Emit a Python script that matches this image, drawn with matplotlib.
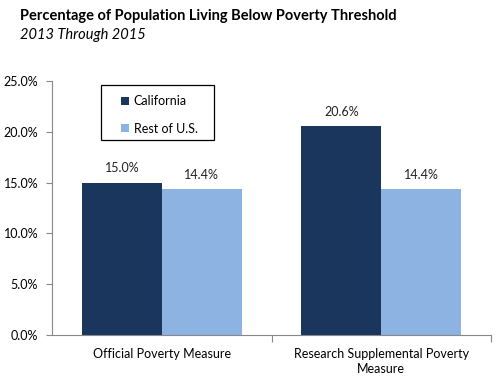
import matplotlib
matplotlib.use("Agg")
import matplotlib.pyplot as plt
from matplotlib.patches import Rectangle
import numpy as np

categories = ["Official Poverty Measure", "Research Supplemental Poverty\nMeasure"]
series_names = ["California", "Rest of U.S."]
california = [15.0, 20.6]
rest_us = [14.4, 14.4]
yticks = [0, 5, 10, 15, 20, 25]

dark = "#1B365D"
light = "#8DB3E2"

plt.rcParams['font.family'] = ['Lato', 'DejaVu Sans']

fig = plt.figure(figsize=(5.03, 3.91), dpi=100)
L, R, T, B = 52, 491, 81, 335
ax = fig.add_axes([L/503, 1-B/391, (R-L)/503, (B-T)/391])

def ax_x(px):
    return (px - L) / (R - L)

def ax_y(py):
    return (B - py) / (B - T)

x = np.arange(len(categories))
w = 0.364
b1 = ax.bar(x - w/2, california, w, color=dark, label=series_names[0])
b2 = ax.bar(x + w/2, rest_us, w, color=light, label=series_names[1])

for bars in (b1, b2):
    for r in bars:
        ax.text(r.get_x() + r.get_width()/2, r.get_height() + 0.8, f"{r.get_height():.1f}%",
                ha="center", va="bottom", fontsize=9, color="#222222")

ax.set_xlim(-0.5, 1.5)
ax.set_ylim(0, 25)
ax.set_yticks(yticks)
ax.set_yticklabels([f"{v:.1f}%" for v in yticks], fontsize=9)
ax.set_xticks([0.5, 1.5])
ax.set_xticklabels([])
ax.set_xticks(x, minor=True)
ax.set_xticklabels(categories, minor=True, fontsize=9, linespacing=1.35)
ax.tick_params(axis='x', which='minor', length=0, pad=9)
ax.tick_params(axis='x', which='major', length=5, color="#888888", direction='out')
ax.tick_params(axis='y', length=4, color="#888888", direction='out', pad=6)
for s in ("top", "right"):
    ax.spines[s].set_visible(False)
for s in ("left", "bottom"):
    ax.spines[s].set_color("#888888")
    ax.spines[s].set_linewidth(0.8)

leg = ax.legend(loc="upper left", bbox_to_anchor=(ax_x(121), ax_y(95)),
                frameon=False, fontsize=9,
                handlelength=0.6, handleheight=0.6, handletextpad=0.4,
                labelspacing=1.25, borderpad=0, borderaxespad=0)
ax.add_patch(Rectangle((ax_x(101), ax_y(140)), ax_x(214) - ax_x(101), ax_y(85) - ax_y(140),
                       transform=ax.transAxes, fill=False, edgecolor="black",
                       linewidth=0.9, zorder=5, clip_on=False))

fig.text(20/503, 1-16/391, "Percentage of Population Living Below Poverty Threshold",
         fontsize=10.5, fontweight="bold", va="center", ha="left")
fig.text(20/503, 1-35/391, "2013 Through 2015", fontsize=10.5, style="italic",
         va="center", ha="left")

fig.savefig("out.png", dpi=100)
